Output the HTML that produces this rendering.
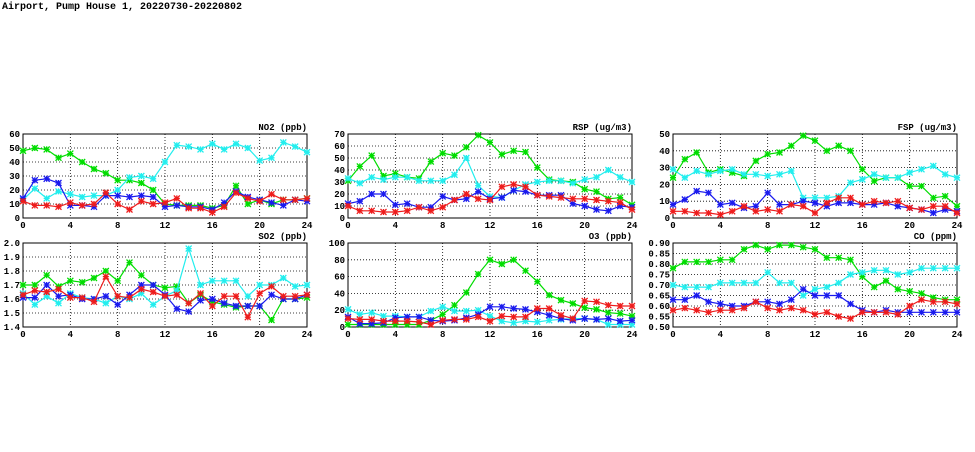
<!DOCTYPE html>
<html><head><meta charset="utf-8">
<style>
body{margin:0;background:#fff;width:975px;height:447px;overflow:hidden}
svg text{font-family:"Liberation Mono","DejaVu Sans Mono",monospace;font-weight:bold;fill:#000}
</style></head><body>
<svg id="chart" width="975" height="447" xmlns="http://www.w3.org/2000/svg">
<text x="2" y="9" font-size="10">Airport, Pump House 1, 20220730-20220802</text>
</svg>
<script>
const hours = [0,1,2,3,4,5,6,7,8,9,10,11,12,13,14,15,16,17,18,19,20,21,22,23,24];
const xTicks = [0,4,8,12,16,20,24];
const no2Green = [48,50,49,43,46,40,35,32,27,27,25,20,10,9,9,9,7,9,23,10,13,10,13,13,14];
const no2Cyan = [13,21,14,19,17,15,16,16,20,29,30,28,40,52,51,49,53,49,53,50,41,43,54,51,47];
const no2Blue = [14,27,28,25,9,9,8,16,16,15,16,15,8,9,8,8,6,11,19,15,13,11,9,13,12];
const no2Red = [12,9,9,8,11,9,10,18,10,6,12,10,11,14,7,7,4,8,18,14,12,17,13,13,14];
const no2Ticks = [0,10,20,30,40,50,60];
const so2Green = [1.70,1.70,1.77,1.69,1.73,1.72,1.75,1.80,1.73,1.86,1.77,1.70,1.68,1.69,1.57,1.63,1.58,1.56,1.54,1.55,1.55,1.45,1.60,1.60,1.61];
const so2Cyan = [1.64,1.56,1.62,1.57,1.64,1.61,1.60,1.57,1.62,1.60,1.64,1.56,1.62,1.66,1.96,1.70,1.73,1.73,1.73,1.62,1.70,1.70,1.75,1.69,1.70];
const so2Blue = [1.61,1.61,1.70,1.62,1.63,1.60,1.60,1.62,1.56,1.63,1.70,1.70,1.63,1.53,1.51,1.59,1.60,1.57,1.55,1.55,1.55,1.63,1.60,1.60,1.63];
const so2Red = [1.63,1.66,1.65,1.67,1.61,1.61,1.58,1.76,1.62,1.61,1.67,1.65,1.62,1.63,1.57,1.64,1.55,1.62,1.62,1.47,1.64,1.69,1.62,1.62,1.63];
const so2Ticks = [1.4,1.5,1.6,1.7,1.8,1.9,2.0];
const rspGreen = [31,43,52,35,37,34,33,47,54,52,59,69,63,53,56,55,42,32,31,30,24,22,16,17,11];
const rspCyan = [33,29,34,32,34,34,31,31,31,36,50,27,18,17,23,28,30,31,31,29,32,34,40,34,30];
const rspBlue = [12,14,20,20,11,12,9,9,18,15,16,22,16,17,23,22,19,19,19,12,10,7,6,10,9];
const rspRed = [10,6,6,5,5,6,9,6,9,15,20,16,15,26,28,26,19,18,17,16,16,15,14,13,7];
const rspTicks = [0,10,20,30,40,50,60,70];
const o3Green = [3,3,3,3,3,3,3,8,15,26,41,63,80,75,80,67,54,38,32,28,23,21,17,16,13];
const o3Cyan = [21,15,17,13,13,12,12,19,24,19,19,20,13,7,5,7,6,8,9,10,10,9,3,3,3];
const o3Blue = [12,4,4,5,11,12,12,8,7,8,11,15,24,24,22,21,18,14,10,8,10,9,10,7,8];
const o3Red = [10,9,9,7,7,7,6,3,8,9,9,12,7,13,12,12,22,22,14,10,31,30,26,25,25];
const o3Ticks = [0,20,40,60,80,100];
const fspGreen = [24,35,39,27,29,27,25,34,38,39,43,49,46,40,43,40,29,22,24,24,19,19,12,13,7];
const fspCyan = [29,24,28,26,28,29,26,26,25,26,28,12,12,12,13,21,23,26,24,24,27,29,31,26,24];
const fspBlue = [8,11,16,15,8,9,6,7,15,8,8,10,9,7,9,9,8,8,9,7,6,5,3,5,4];
const fspRed = [4,4,3,3,2,4,7,4,5,4,8,7,3,9,12,12,8,10,9,10,6,5,7,7,3];
const fspTicks = [0,10,20,30,40,50];
const coGreen = [.78,.81,.81,.81,.82,.82,.87,.89,.87,.89,.89,.88,.87,.83,.83,.82,.74,.69,.72,.68,.67,.66,.64,.63,.63];
const coCyan = [.70,.69,.69,.69,.71,.71,.71,.71,.76,.71,.71,.65,.68,.69,.71,.75,.76,.77,.77,.75,.76,.78,.78,.78,.78];
const coBlue = [.63,.63,.65,.62,.61,.60,.60,.62,.62,.61,.63,.68,.65,.65,.65,.61,.58,.57,.58,.57,.57,.57,.57,.57,.57];
const coRed = [.58,.59,.58,.57,.58,.58,.59,.62,.59,.58,.59,.58,.56,.57,.55,.54,.57,.57,.57,.56,.60,.63,.62,.62,.61];
const coTicks = [0.50,0.55,0.60,0.65,0.70,0.75,0.80,0.85,0.90];

const NS="http://www.w3.org/2000/svg";
const svg=document.getElementById('chart');
const COLORS={green:'#00dd00',cyan:'#22eeee',blue:'#1a1aee',red:'#ee1c1c'};
function mk(tag,attrs,parent){const e=document.createElementNS(NS,tag);for(const k in attrs)e.setAttribute(k,attrs[k]);(parent||svg).appendChild(e);return e;}

function panel(name,title,left,top,ticks,dec,series){
  const right=left+284,bottom=top+84;
  const g=mk('g',{});
  
  
  const ymin=ticks[0],ymax=ticks[ticks.length-1];
  const X=h=>left+(h/24)*(right-left);
  const Y=v=>bottom-(v-ymin)/(ymax-ymin)*(bottom-top);
  ticks.forEach(t=>{
    const y=Y(t);
    if(t!==ymin&&t!==ymax){const l=mk('line',{x1:left,x2:right,y1:y,y2:y,stroke:'#000','stroke-width':0.8,'stroke-dasharray':'1,2'},g);
      
      }
    const tx=mk('text',{x:left-3,y:y+3,'font-size':9,'text-anchor':'end'},g);
    
    
    tx.textContent=t.toFixed(dec);
  });
  xTicks.forEach(t=>{
    const x=X(t);
    if(t!==0&&t!==24){const l=mk('line',{x1:x,x2:x,y1:top,y2:bottom,stroke:'#000','stroke-width':0.8,'stroke-dasharray':'1,2'},g);
      
      }
    const tx=mk('text',{x:x,y:bottom+10,'font-size':9,'text-anchor':'middle'},g);
    
    
    tx.textContent=t;
  });
  const fr=mk('rect',{x:left,y:top,width:right-left,height:bottom-top,fill:'none',stroke:'#000','stroke-width':1},g);
  
  
  const tt=mk('text',{x:right,y:top-4,'font-size':9,'text-anchor':'end'},g);
  
  
  tt.textContent=title;
  series.forEach(([col,vals])=>{
    const pts=vals.map((v,i)=>X(hours[i]).toFixed(1)+','+Y(v).toFixed(1)).join(' ');
    const pl=mk('polyline',{points:pts,fill:'none',stroke:COLORS[col],'stroke-width':1.2},g);
    
    
    vals.forEach((v,i)=>{
      const x=X(hours[i]),y=Y(v),r=3;
      const m=mk('path',{d:`M${x-r},${y-r}L${x+r},${y+r}M${x-r},${y+r}L${x+r},${y-r}M${x-r},${y}L${x+r},${y}M${x},${y-r}L${x},${y+r}`,stroke:COLORS[col],'stroke-width':1.3},g);
      
      
    });
  });
}
panel('no2','NO2 (ppb)',23,134,no2Ticks,0,[['green',no2Green],['cyan',no2Cyan],['blue',no2Blue],['red',no2Red]]);
panel('so2','SO2 (ppb)',23,243,so2Ticks,1,[['green',so2Green],['cyan',so2Cyan],['blue',so2Blue],['red',so2Red]]);
panel('rsp','RSP (ug/m3)',348,134,rspTicks,0,[['green',rspGreen],['cyan',rspCyan],['blue',rspBlue],['red',rspRed]]);
panel('o3','O3 (ppb)',348,243,o3Ticks,0,[['green',o3Green],['cyan',o3Cyan],['blue',o3Blue],['red',o3Red]]);
panel('fsp','FSP (ug/m3)',673,134,fspTicks,0,[['green',fspGreen],['cyan',fspCyan],['blue',fspBlue],['red',fspRed]]);
panel('co','CO (ppm)',673,243,coTicks,2,[['green',coGreen],['cyan',coCyan],['blue',coBlue],['red',coRed]]);
</script>
</body></html>
